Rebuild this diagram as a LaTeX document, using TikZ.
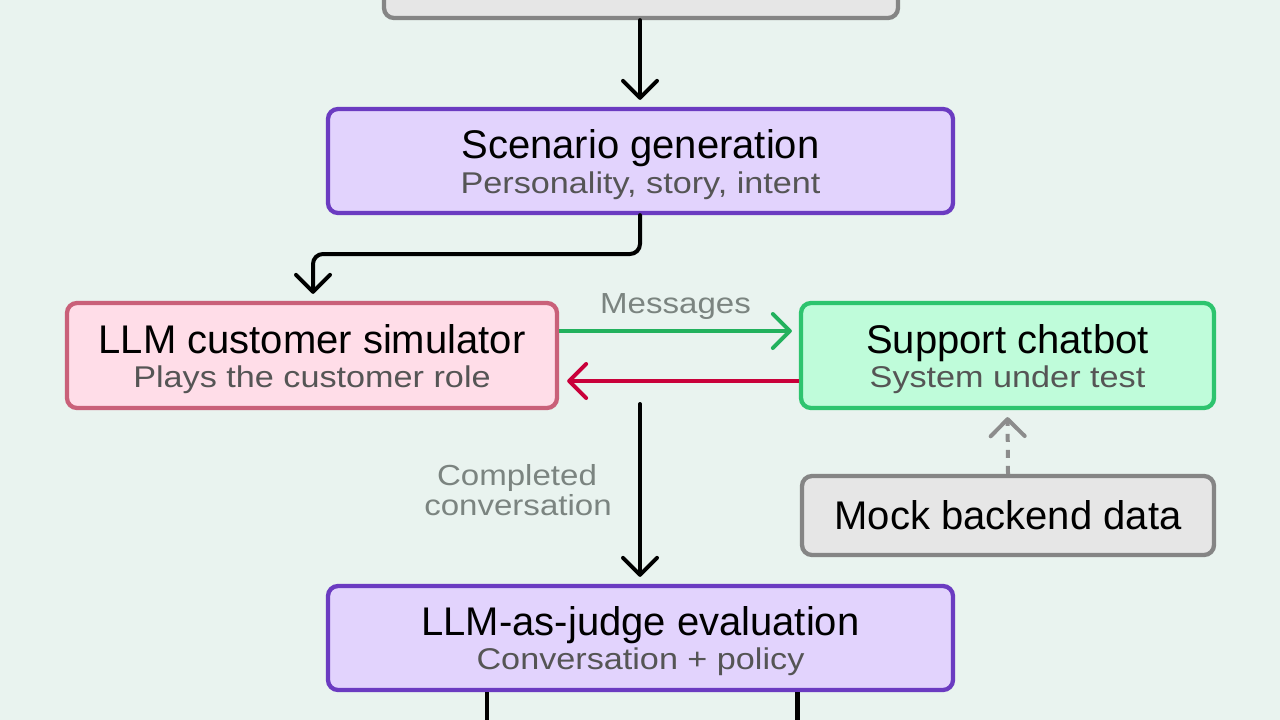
\documentclass[tikz,border=0pt]{standalone}
\usepackage{fontspec}
\setmainfont{Liberation Sans}
\newfontfamily\subf[FakeStretch=1.14]{Liberation Sans}
\usetikzlibrary{arrows.meta}
\definecolor{bgc}{HTML}{E9F3EF}
\definecolor{grayfill}{HTML}{E6E6E6}
\definecolor{grayline}{HTML}{858585}
\definecolor{purfill}{HTML}{E2D3FD}
\definecolor{purline}{HTML}{6B3BC1}
\definecolor{pinkfill}{HTML}{FFDDE8}
\definecolor{pinkline}{HTML}{C96079}
\definecolor{grnfill}{HTML}{BFFCDA}
\definecolor{grnline}{HTML}{2DC46E}
\definecolor{grnarrow}{HTML}{22B15D}
\definecolor{redarrow}{HTML}{C9003A}
\definecolor{lblgray}{HTML}{7B8480}
\definecolor{subgray}{HTML}{555555}
\definecolor{dashgray}{HTML}{8C8C8C}
\tikzset{
  boxbase/.style={draw, line width=4.3pt, rounded corners=10pt, inner sep=0pt},
  graybox/.style={boxbase, fill=grayfill, draw=grayline},
  purbox/.style={boxbase, fill=purfill, draw=purline},
  pinkbox/.style={boxbase, fill=pinkfill, draw=pinkline},
  grnbox/.style={boxbase, fill=grnfill, draw=grnline},
  ttl/.style={anchor=base, inner sep=0pt, font=\fontsize{40}{46}\selectfont, text=black},
  sub/.style={anchor=base, inner sep=0pt, font=\subf\fontsize{30}{34}\selectfont, text=subgray},
  lbl/.style={anchor=base, inner sep=0pt, font=\subf\fontsize{29}{30}\selectfont, text=lblgray, align=center},
  tip/.style={-{Straight Barb[length=17pt,width=34pt,round]}},
  arr/.style={tip, line width=4pt, line cap=round},
}
\begin{document}
\begin{tikzpicture}[x=1pt,y=-1pt]
\fill[bgc] (0,0) rectangle (1280,720);
\useasboundingbox (0,0) rectangle (1280,720);

% boxes
\node[graybox, minimum width=514pt, minimum height=116pt] (top) at (641,-40) {};
\node[purbox, minimum width=625pt, minimum height=104pt] (scen) at (640.5,161) {};
\node[pinkbox, minimum width=490pt, minimum height=105pt] (sim) at (312,355.5) {};
\node[grnbox, minimum width=413pt, minimum height=105pt] (chat) at (1007.5,355.5) {};
\node[graybox, minimum width=412pt, minimum height=79pt] (mock) at (1008,515.5) {};
\node[purbox, minimum width=625pt, minimum height=104pt] (judge) at (640.5,638) {};

% texts
\node[ttl] (scent) at (640.5,158.5) {Scenario generation};
\node[sub] (scens) at (640.5,193) {Personality, story, intent};
\node[ttl] (simt) at (312,353) {LLM customer simulator};
\node[sub] (sims) at (312,387.5) {Plays the customer role};
\node[ttl] (chatt) at (1007.5,353) {Support chatbot};
\node[sub] (chats) at (1007.5,387.5) {System under test};
\node[ttl] (mockt) at (1008,529.5) {Mock backend data};
\node[ttl] (judget) at (640.5,635) {LLM-as-judge evaluation};
\node[sub] (judges) at (640.5,669.5) {Conversation + policy};

% labels
\node[lbl] (msg) at (675.5,313) {Messages};
\node[lbl] (comp1) at (517,485) {Completed};
\node[lbl] (comp2) at (518,515) {conversation};

% coordinates
\coordinate (cstart) at (640,404);
\coordinate (b1) at (487,724);
\coordinate (b2) at (797.5,724);

% connectors
\draw[arr, black, shorten >=7pt] (top.south -| 640,0) -- (scen.north -| 640,0);
\draw[arr, black, rounded corners=10pt, shorten >=7pt] (scen.south -| 640,0) -- (640,254) -| (sim.north -| 313,0);
\draw[arr, grnarrow, line cap=butt, shorten >=7pt] (sim.east |- 0,331) -- (chat.west |- 0,331);
\draw[arr, redarrow, line cap=butt, shorten >=8pt] (chat.west |- 0,381) -- (sim.east |- 0,381);
\draw[arr, black, shorten >=7pt] (cstart) -- (judge.north -| 640,0);
\draw[arr, dashgray, line cap=butt, dash pattern=on 8pt off 8pt, shorten >=7pt] (mock.north) -- (chat.south);
\draw[line width=4.5pt, black] (judge.south -| b1) -- (b1);
\draw[line width=4.5pt, black] (judge.south -| b2) -- (b2);
\end{tikzpicture}
\end{document}
